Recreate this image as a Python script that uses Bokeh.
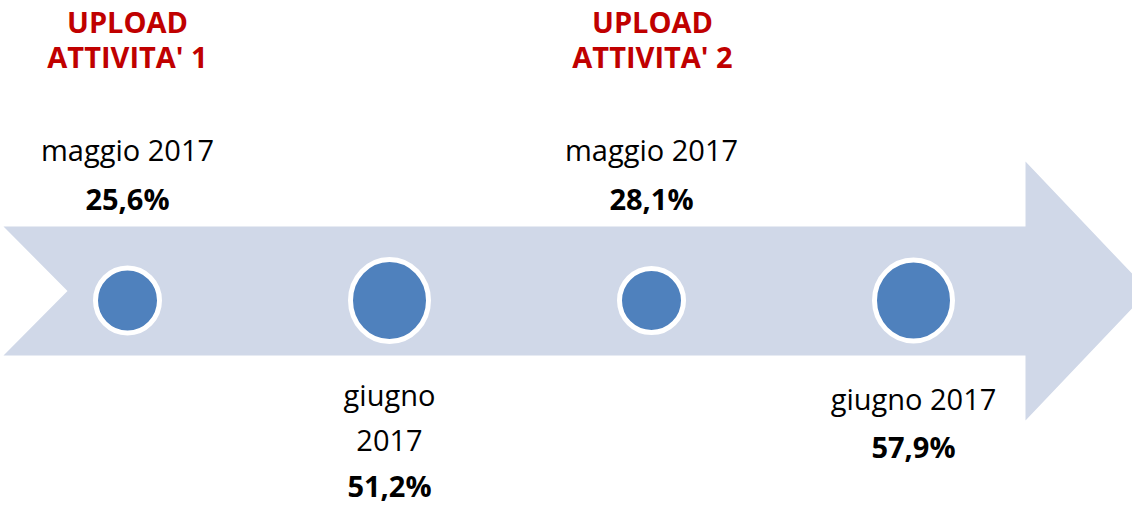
from bokeh.plotting import figure
from bokeh.models import Range1d
from bokeh.core.properties import value
from bokeh.embed import file_html
from bokeh.resources import INLINE

# ---- data ----
activity_titles = ["UPLOAD\nATTIVITA' 1", "UPLOAD\nATTIVITA' 2"]
months = ["maggio 2017", "giugno 2017", "maggio 2017", "giugno 2017"]
values = [25.6, 51.2, 28.1, 57.9]

# ---- layout (reference pixel space; page margin is 8px) ----
M = 8
FW, FH = 1132, 504
cx = [135, 397, 659, 921]
cy = 308
outer_w = [69, 83, 69, 83]
outer_h = [70, 87, 69, 86]
ring = 5
label_side = ["top", "bottom", "top", "bottom"]
wrap_month = [False, True, False, False]
activity_x = [135, 660]
TEXT_DY = -12.5  # correction for how the text baseline is rendered

FONT = value("Open Sans")
FS = value("29px")

p = figure(width=FW, height=FH, output_backend="svg", toolbar_location=None,
           x_range=Range1d(M, M + FW), y_range=Range1d(M + FH, M),
           min_border=0, outline_line_color=None)
p.axis.visible = False
p.grid.visible = False
p.background_fill_color = "white"
p.border_fill_color = "white"

# arrow
body_top, body_bot = 234, 363
head_top, head_bot = 169, 428
x_left, notch, head_x = 11, 75, 1033
mid = (body_top + body_bot) / 2
tip = head_x + (mid - head_top) * 0.95
p.patch([x_left, head_x, head_x, tip, head_x, head_x, x_left, notch],
        [body_top, body_top, head_top, mid, head_bot, body_bot, body_bot, mid],
        fill_color="#D0D8E8", line_color=None)

# circles
p.ellipse(x=cx, y=[cy] * 4,
          width=[w - ring for w in outer_w], height=[h - ring for h in outer_h],
          fill_color="#4F81BD", line_color="white", line_width=ring)

def ty(vals):
    return [v + TEXT_DY for v in vals]

# activity headers
for ax, t in zip(activity_x, activity_titles):
    l1, l2 = t.split("\n")
    p.text(x=[ax, ax], y=ty([41, 76]), text=[l1, l2], text_align="center",
           text_baseline="alphabetic", text_font=FONT, text_font_size=FS,
           text_font_style="bold", text_color="#C00000")

def fmt(v):
    return f"{v:.1f}".replace(".", ",") + "%"

for i in range(4):
    x = cx[i]
    if label_side[i] == "top":
        month_lines = [months[i]]
        ys = [169]
        vy = 218
    else:
        if wrap_month[i]:
            month_lines = months[i].split(" ")
            ys = [414, 460]
            vy = 505
        else:
            month_lines = [months[i]]
            ys = [418]
            vy = 466
    p.text(x=[x] * len(month_lines), y=ty(ys), text=month_lines, text_align="center",
           text_baseline="alphabetic", text_font=FONT, text_font_size=FS,
           text_color="black")
    p.text(x=[x], y=ty([vy]), text=[fmt(values[i])], text_align="center",
           text_baseline="alphabetic", text_font=FONT, text_font_size=FS,
           text_font_style="bold", text_color="black")

open("out.html", "w").write(file_html(p, INLINE))
